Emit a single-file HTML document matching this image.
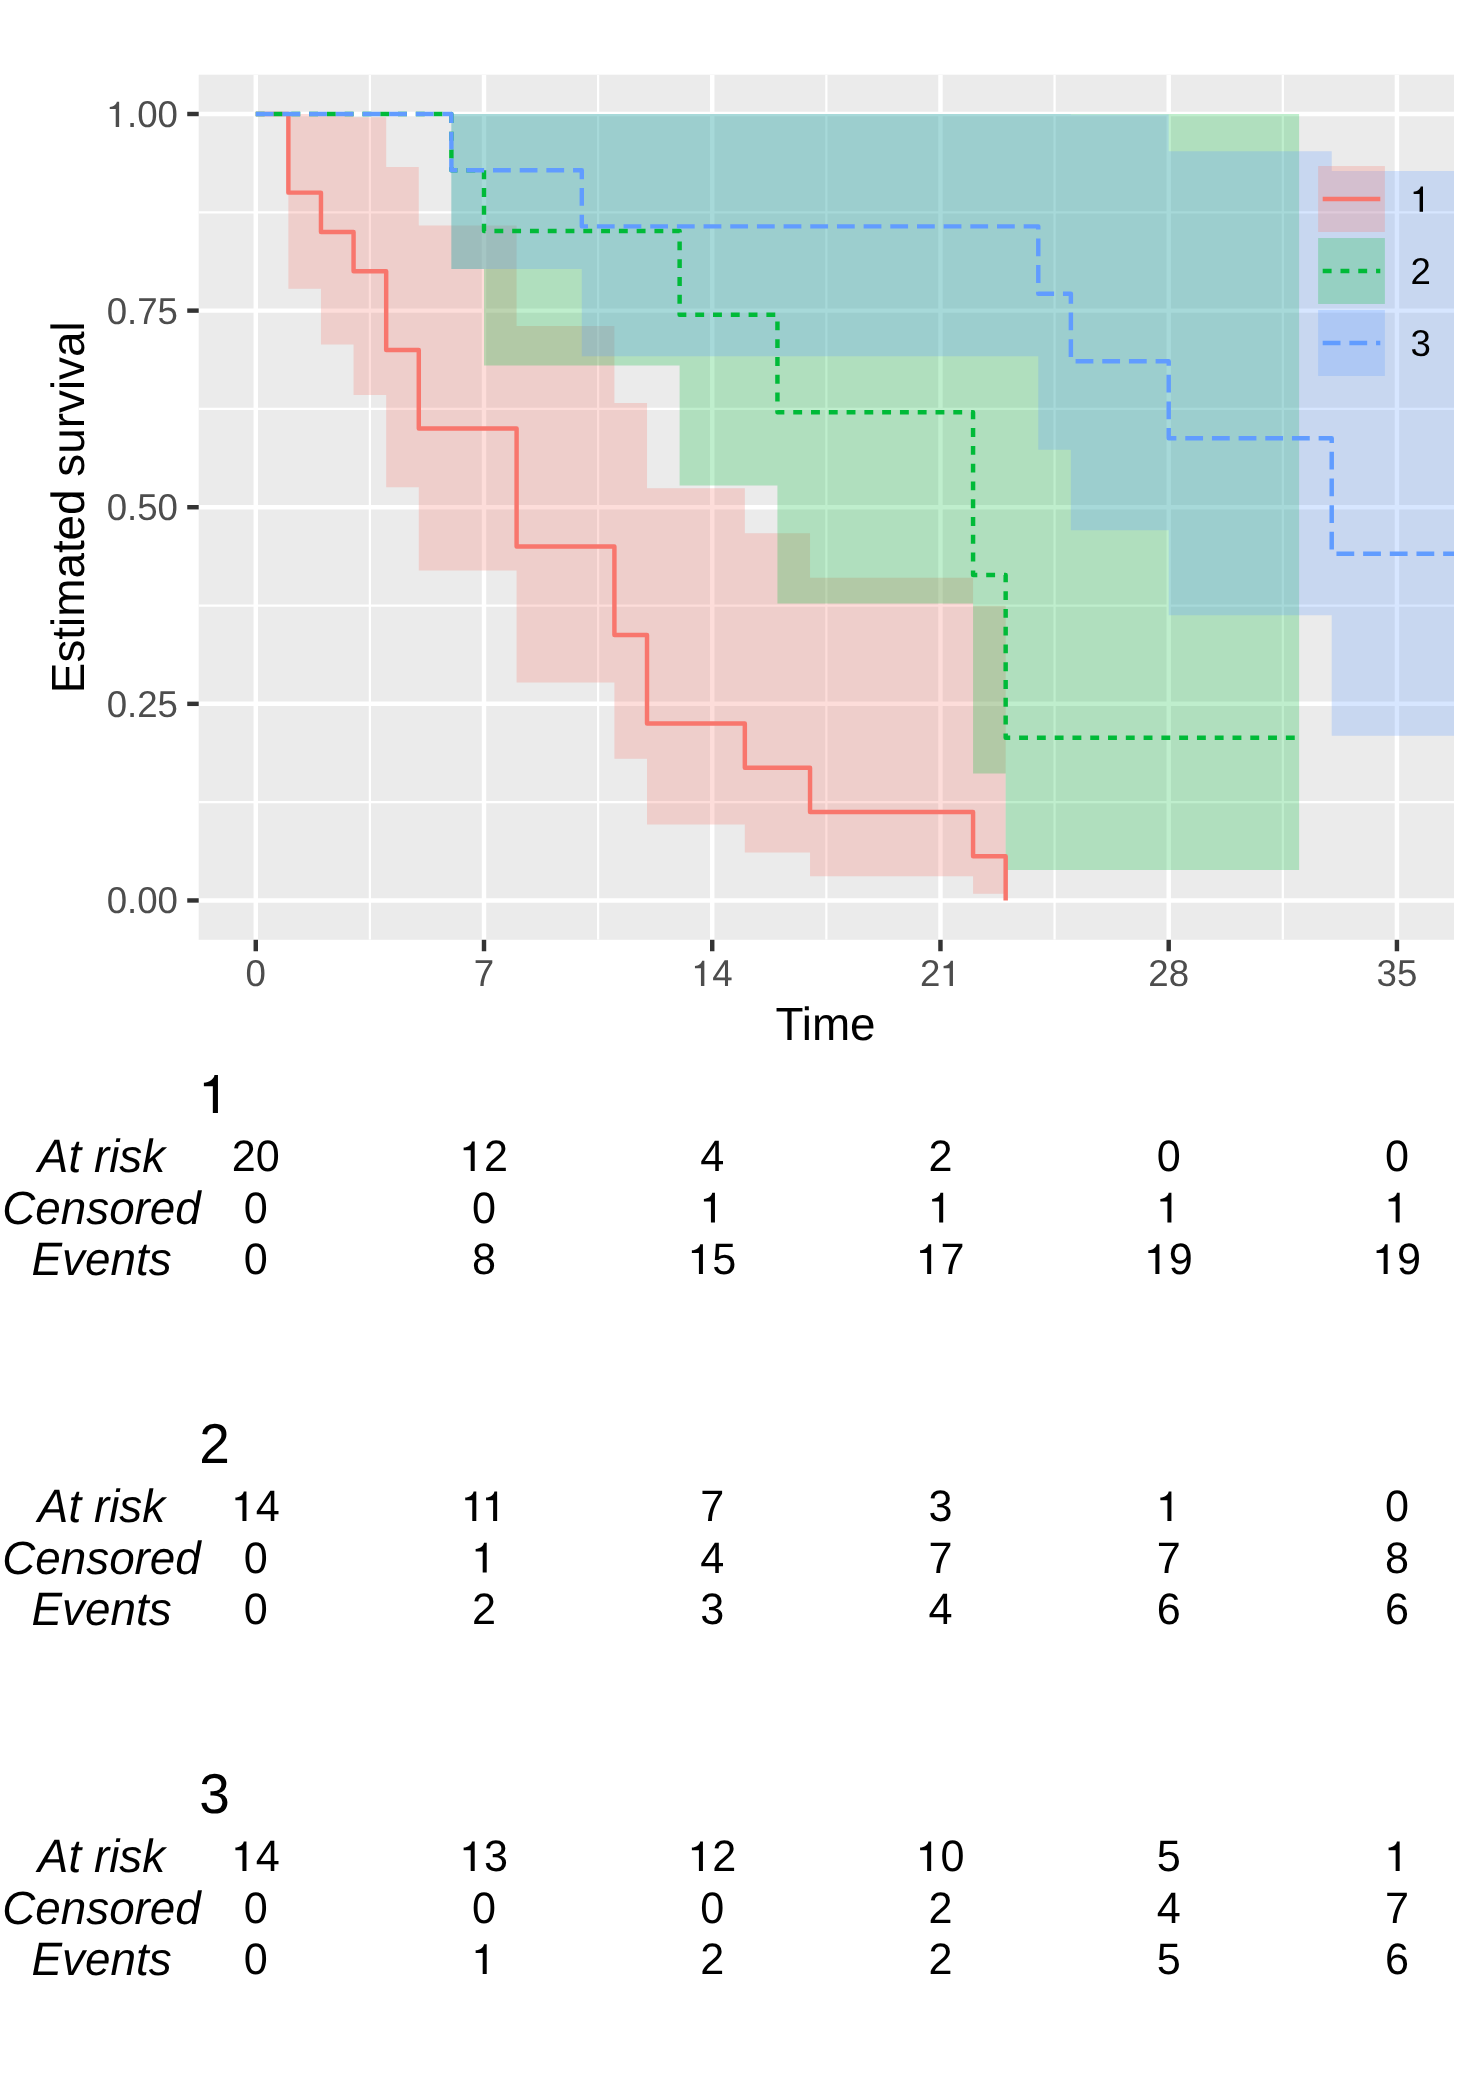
<!DOCTYPE html>
<html><head><meta charset="utf-8"><style>
html,body{margin:0;padding:0;background:#fff;}
svg{display:block;will-change:transform;}
text{font-family:"Liberation Sans",sans-serif;text-rendering:geometricPrecision;}
.tt{font-size:45.83px;fill:#000;}
.sl{font-size:45.83px;fill:#000;font-style:italic;}
</style></head><body>
<svg width="1484" height="2100" viewBox="0 0 1484 2100">
<defs><clipPath id="pc"><rect x="198.70" y="74.70" width="1255.30" height="865.10"/></clipPath></defs>
<rect x="0" y="0" width="1484" height="2100" fill="#fff"/>
<rect x="198.70" y="74.70" width="1255.30" height="865.10" fill="#EBEBEB"/>
<g clip-path="url(#pc)">
<line x1="369.88" y1="74.70" x2="369.88" y2="939.80" stroke="#fff" stroke-width="2.22"/>
<line x1="598.11" y1="74.70" x2="598.11" y2="939.80" stroke="#fff" stroke-width="2.22"/>
<line x1="826.35" y1="74.70" x2="826.35" y2="939.80" stroke="#fff" stroke-width="2.22"/>
<line x1="1054.58" y1="74.70" x2="1054.58" y2="939.80" stroke="#fff" stroke-width="2.22"/>
<line x1="1282.82" y1="74.70" x2="1282.82" y2="939.80" stroke="#fff" stroke-width="2.22"/>
<line x1="198.70" y1="802.14" x2="1454.00" y2="802.14" stroke="#fff" stroke-width="2.22"/>
<line x1="198.70" y1="605.53" x2="1454.00" y2="605.53" stroke="#fff" stroke-width="2.22"/>
<line x1="198.70" y1="408.92" x2="1454.00" y2="408.92" stroke="#fff" stroke-width="2.22"/>
<line x1="198.70" y1="212.31" x2="1454.00" y2="212.31" stroke="#fff" stroke-width="2.22"/>
<line x1="255.76" y1="74.70" x2="255.76" y2="939.80" stroke="#fff" stroke-width="4.44"/>
<line x1="484.00" y1="74.70" x2="484.00" y2="939.80" stroke="#fff" stroke-width="4.44"/>
<line x1="712.23" y1="74.70" x2="712.23" y2="939.80" stroke="#fff" stroke-width="4.44"/>
<line x1="940.46" y1="74.70" x2="940.46" y2="939.80" stroke="#fff" stroke-width="4.44"/>
<line x1="1168.70" y1="74.70" x2="1168.70" y2="939.80" stroke="#fff" stroke-width="4.44"/>
<line x1="1396.93" y1="74.70" x2="1396.93" y2="939.80" stroke="#fff" stroke-width="4.44"/>
<line x1="198.70" y1="900.45" x2="1454.00" y2="900.45" stroke="#fff" stroke-width="4.44"/>
<line x1="198.70" y1="703.84" x2="1454.00" y2="703.84" stroke="#fff" stroke-width="4.44"/>
<line x1="198.70" y1="507.23" x2="1454.00" y2="507.23" stroke="#fff" stroke-width="4.44"/>
<line x1="198.70" y1="310.61" x2="1454.00" y2="310.61" stroke="#fff" stroke-width="4.44"/>
<line x1="198.70" y1="114.00" x2="1454.00" y2="114.00" stroke="#fff" stroke-width="4.44"/>
<path d="M255.76 114.00 L288.37 114.00 L288.37 114.00 L320.97 114.00 L320.97 114.00 L353.57 114.00 L353.57 117.15 L386.18 117.15 L386.18 166.99 L418.78 166.99 L418.78 225.56 L516.60 225.56 L516.60 325.92 L614.41 325.92 L614.41 402.90 L647.02 402.90 L647.02 488.28 L744.83 488.28 L744.83 533.37 L810.04 533.37 L810.04 577.63 L973.07 577.63 L973.07 605.76 L1005.67 605.76 L1005.67 893.81 L973.07 893.81 L973.07 876.20 L810.04 876.20 L810.04 852.47 L744.83 852.47 L744.83 824.48 L647.02 824.48 L647.02 758.85 L614.41 758.85 L614.41 682.45 L516.60 682.45 L516.60 570.53 L418.78 570.53 L418.78 487.25 L386.18 487.25 L386.18 395.10 L353.57 395.10 L353.57 344.38 L320.97 344.38 L320.97 288.85 L288.37 288.85 L288.37 114.00 L255.76 114.00 Z" fill="#F8766D" fill-opacity="0.25"/>
<path d="M255.76 114.00 L451.39 114.00 L451.39 114.00 L484.00 114.00 L484.00 114.00 L679.62 114.00 L679.62 114.00 L777.44 114.00 L777.44 114.00 L973.07 114.00 L973.07 114.00 L1005.67 114.00 L1005.67 114.00 L1299.12 114.00 L1299.12 869.99 L1005.67 869.99 L1005.67 773.57 L973.07 773.57 L973.07 603.46 L777.44 603.46 L777.44 485.49 L679.62 485.49 L679.62 365.41 L484.00 365.41 L484.00 268.93 L451.39 268.93 L451.39 114.00 L255.76 114.00 Z" fill="#00BA38" fill-opacity="0.25"/>
<path d="M255.76 114.00 L451.39 114.00 L451.39 114.00 L581.81 114.00 L581.81 114.00 L1038.28 114.00 L1038.28 114.00 L1070.88 114.00 L1070.88 114.60 L1168.70 114.60 L1168.70 151.23 L1331.72 151.23 L1331.72 171.00 L1559.96 171.00 L1559.96 735.69 L1331.72 735.69 L1331.72 615.27 L1168.70 615.27 L1168.70 530.37 L1070.88 530.37 L1070.88 449.81 L1038.28 449.81 L1038.28 356.14 L581.81 356.14 L581.81 268.93 L451.39 268.93 L451.39 114.00 L255.76 114.00 Z" fill="#619CFF" fill-opacity="0.25"/>
<path d="M255.76 114.00 L288.37 114.00 L288.37 192.64 L320.97 192.64 L320.97 231.97 L353.57 231.97 L353.57 271.29 L386.18 271.29 L386.18 349.94 L418.78 349.94 L418.78 428.58 L516.60 428.58 L516.60 546.55 L614.41 546.55 L614.41 635.02 L647.02 635.02 L647.02 723.50 L744.83 723.50 L744.83 767.74 L810.04 767.74 L810.04 811.97 L973.07 811.97 L973.07 856.21 L1005.67 856.21 L1005.67 900.45" fill="none" stroke="#F8766D" stroke-width="4.45" stroke-linejoin="round" stroke-linecap="butt"/>
<path d="M255.76 114.00 L451.39 114.00 L451.39 170.17 L484.00 170.17 L484.00 231.03 L679.62 231.03 L679.62 314.71 L777.44 314.71 L777.44 412.33 L973.07 412.33 L973.07 575.04 L1005.67 575.04 L1005.67 737.74 L1299.12 737.74" fill="none" stroke="#00BA38" stroke-width="4.45" stroke-linejoin="round" stroke-linecap="butt" stroke-dasharray="8.8916 8.8916"/>
<path d="M255.76 114.00 L451.39 114.00 L451.39 170.17 L581.81 170.17 L581.81 226.35 L1038.28 226.35 L1038.28 293.76 L1070.88 293.76 L1070.88 361.17 L1168.70 361.17 L1168.70 438.21 L1331.72 438.21 L1331.72 553.77 L1559.96 553.77" fill="none" stroke="#619CFF" stroke-width="4.45" stroke-linejoin="round" stroke-linecap="butt" stroke-dasharray="17.7832 8.8916"/>
</g>
<line x1="255.76" y1="939.80" x2="255.76" y2="951.26" stroke="#333" stroke-width="4.44"/>
<text transform="translate(245.56 986.00) scale(1 1.020)" style="font-size:36.67px;fill:#4D4D4D">0</text>
<line x1="484.00" y1="939.80" x2="484.00" y2="951.26" stroke="#333" stroke-width="4.44"/>
<text transform="translate(473.80 986.00) scale(1 1.020)" style="font-size:36.67px;fill:#4D4D4D">7</text>
<line x1="712.23" y1="939.80" x2="712.23" y2="951.26" stroke="#333" stroke-width="4.44"/>
<path d="M341 0L341-687L278-687C272-620 182-546 85-546L85-485L248-485L248 0Z" transform="translate(691.84 986.00) scale(0.03667)" fill="#4D4D4D"/><text transform="translate(712.23 986.00) scale(1 1.020)" style="font-size:36.67px;fill:#4D4D4D">4</text>
<line x1="940.46" y1="939.80" x2="940.46" y2="951.26" stroke="#333" stroke-width="4.44"/>
<text transform="translate(920.07 986.00) scale(1 1.020)" style="font-size:36.67px;fill:#4D4D4D">2</text><path d="M341 0L341-687L278-687C272-620 182-546 85-546L85-485L248-485L248 0Z" transform="translate(940.46 986.00) scale(0.03667)" fill="#4D4D4D"/>
<line x1="1168.70" y1="939.80" x2="1168.70" y2="951.26" stroke="#333" stroke-width="4.44"/>
<text transform="translate(1148.31 986.00) scale(1 1.020)" style="font-size:36.67px;fill:#4D4D4D">28</text>
<line x1="1396.93" y1="939.80" x2="1396.93" y2="951.26" stroke="#333" stroke-width="4.44"/>
<text transform="translate(1376.54 986.00) scale(1 1.020)" style="font-size:36.67px;fill:#4D4D4D">35</text>
<line x1="187.24" y1="900.45" x2="198.70" y2="900.45" stroke="#333" stroke-width="4.44"/>
<text transform="translate(106.63 913.35) scale(1 1.020)" style="font-size:36.67px;fill:#4D4D4D">0.00</text>
<line x1="187.24" y1="703.84" x2="198.70" y2="703.84" stroke="#333" stroke-width="4.44"/>
<text transform="translate(106.63 716.74) scale(1 1.020)" style="font-size:36.67px;fill:#4D4D4D">0.25</text>
<line x1="187.24" y1="507.23" x2="198.70" y2="507.23" stroke="#333" stroke-width="4.44"/>
<text transform="translate(106.63 520.12) scale(1 1.020)" style="font-size:36.67px;fill:#4D4D4D">0.50</text>
<line x1="187.24" y1="310.61" x2="198.70" y2="310.61" stroke="#333" stroke-width="4.44"/>
<text transform="translate(106.63 323.51) scale(1 1.020)" style="font-size:36.67px;fill:#4D4D4D">0.75</text>
<line x1="187.24" y1="114.00" x2="198.70" y2="114.00" stroke="#333" stroke-width="4.44"/>
<path d="M341 0L341-687L278-687C272-620 182-546 85-546L85-485L248-485L248 0Z" transform="translate(106.63 126.90) scale(0.03667)" fill="#4D4D4D"/><text transform="translate(127.02 126.90) scale(1 1.020)" style="font-size:36.67px;fill:#4D4D4D">.00</text>
<text transform="translate(825.5 1039.8) scale(1 1.015)" x="0" y="0" text-anchor="middle" class="tt">Time</text>
<text transform="translate(83.8 507.25) rotate(-90) scale(1 1.015)" x="0" y="0" text-anchor="middle" class="tt">Estimated survival</text>
<rect x="1318.1" y="166.05" width="66.8" height="65.9" fill="#F8766D" fill-opacity="0.25"/>
<line x1="1322.7" y1="199.00" x2="1380.3" y2="199.00" stroke="#F8766D" stroke-width="4.44"/>
<path d="M341 0L341-687L278-687C272-620 182-546 85-546L85-485L248-485L248 0Z" transform="translate(1410.50 211.80) scale(0.03667)" fill="#000"/>
<rect x="1318.1" y="238.05" width="66.8" height="65.9" fill="#00BA38" fill-opacity="0.25"/>
<line x1="1322.7" y1="271.00" x2="1380.3" y2="271.00" stroke="#00BA38" stroke-width="4.44" stroke-dasharray="8.8916 8.8916"/>
<text transform="translate(1410.50 283.80) scale(1 1.020)" style="font-size:36.67px;fill:#000">2</text>
<rect x="1318.1" y="310.05" width="66.8" height="65.9" fill="#619CFF" fill-opacity="0.25"/>
<line x1="1322.7" y1="343.00" x2="1380.3" y2="343.00" stroke="#619CFF" stroke-width="4.44" stroke-dasharray="17.7832 8.8916"/>
<text transform="translate(1410.50 355.80) scale(1 1.020)" style="font-size:36.67px;fill:#000">3</text>
<path d="M341 0L341-687L278-687C272-620 182-546 85-546L85-485L248-485L248 0Z" transform="translate(199.20 1112.90) scale(0.05500)" fill="#000"/>
<text transform="translate(101.5 1172.00) scale(1 1.02)" x="0" y="0" text-anchor="middle" class="sl">At risk</text>
<text transform="translate(231.73 1171.10) scale(1 1.020)" style="font-size:43.20px;fill:#000">20</text>
<path d="M341 0L341-687L278-687C272-620 182-546 85-546L85-485L248-485L248 0Z" transform="translate(459.97 1171.10) scale(0.04320)" fill="#000"/><text transform="translate(484.00 1171.10) scale(1 1.020)" style="font-size:43.20px;fill:#000">2</text>
<text transform="translate(700.22 1171.10) scale(1 1.020)" style="font-size:43.20px;fill:#000">4</text>
<text transform="translate(928.45 1171.10) scale(1 1.020)" style="font-size:43.20px;fill:#000">2</text>
<text transform="translate(1156.69 1171.10) scale(1 1.020)" style="font-size:43.20px;fill:#000">0</text>
<text transform="translate(1384.92 1171.10) scale(1 1.020)" style="font-size:43.20px;fill:#000">0</text>
<text transform="translate(101.5 1223.50) scale(1 1.02)" x="0" y="0" text-anchor="middle" class="sl">Censored</text>
<text transform="translate(243.75 1222.50) scale(1 1.020)" style="font-size:43.20px;fill:#000">0</text>
<text transform="translate(471.98 1222.50) scale(1 1.020)" style="font-size:43.20px;fill:#000">0</text>
<path d="M341 0L341-687L278-687C272-620 182-546 85-546L85-485L248-485L248 0Z" transform="translate(700.22 1222.50) scale(0.04320)" fill="#000"/>
<path d="M341 0L341-687L278-687C272-620 182-546 85-546L85-485L248-485L248 0Z" transform="translate(928.45 1222.50) scale(0.04320)" fill="#000"/>
<path d="M341 0L341-687L278-687C272-620 182-546 85-546L85-485L248-485L248 0Z" transform="translate(1156.69 1222.50) scale(0.04320)" fill="#000"/>
<path d="M341 0L341-687L278-687C272-620 182-546 85-546L85-485L248-485L248 0Z" transform="translate(1384.92 1222.50) scale(0.04320)" fill="#000"/>
<text transform="translate(101.5 1275.00) scale(1 1.02)" x="0" y="0" text-anchor="middle" class="sl">Events</text>
<text transform="translate(243.75 1273.90) scale(1 1.020)" style="font-size:43.20px;fill:#000">0</text>
<text transform="translate(471.98 1273.90) scale(1 1.020)" style="font-size:43.20px;fill:#000">8</text>
<path d="M341 0L341-687L278-687C272-620 182-546 85-546L85-485L248-485L248 0Z" transform="translate(688.20 1273.90) scale(0.04320)" fill="#000"/><text transform="translate(712.23 1273.90) scale(1 1.020)" style="font-size:43.20px;fill:#000">5</text>
<path d="M341 0L341-687L278-687C272-620 182-546 85-546L85-485L248-485L248 0Z" transform="translate(916.44 1273.90) scale(0.04320)" fill="#000"/><text transform="translate(940.46 1273.90) scale(1 1.020)" style="font-size:43.20px;fill:#000">7</text>
<path d="M341 0L341-687L278-687C272-620 182-546 85-546L85-485L248-485L248 0Z" transform="translate(1144.67 1273.90) scale(0.04320)" fill="#000"/><text transform="translate(1168.70 1273.90) scale(1 1.020)" style="font-size:43.20px;fill:#000">9</text>
<path d="M341 0L341-687L278-687C272-620 182-546 85-546L85-485L248-485L248 0Z" transform="translate(1372.91 1273.90) scale(0.04320)" fill="#000"/><text transform="translate(1396.93 1273.90) scale(1 1.020)" style="font-size:43.20px;fill:#000">9</text>
<text transform="translate(199.20 1462.90) scale(1 1.020)" style="font-size:55.00px;fill:#000">2</text>
<text transform="translate(101.5 1522.00) scale(1 1.02)" x="0" y="0" text-anchor="middle" class="sl">At risk</text>
<path d="M341 0L341-687L278-687C272-620 182-546 85-546L85-485L248-485L248 0Z" transform="translate(231.73 1521.10) scale(0.04320)" fill="#000"/><text transform="translate(255.76 1521.10) scale(1 1.020)" style="font-size:43.20px;fill:#000">4</text>
<path d="M341 0L341-687L278-687C272-620 182-546 85-546L85-485L248-485L248 0Z" transform="translate(461.57 1521.10) scale(0.04320)" fill="#000"/><path d="M341 0L341-687L278-687C272-620 182-546 85-546L85-485L248-485L248 0Z" transform="translate(482.40 1521.10) scale(0.04320)" fill="#000"/>
<text transform="translate(700.22 1521.10) scale(1 1.020)" style="font-size:43.20px;fill:#000">7</text>
<text transform="translate(928.45 1521.10) scale(1 1.020)" style="font-size:43.20px;fill:#000">3</text>
<path d="M341 0L341-687L278-687C272-620 182-546 85-546L85-485L248-485L248 0Z" transform="translate(1156.69 1521.10) scale(0.04320)" fill="#000"/>
<text transform="translate(1384.92 1521.10) scale(1 1.020)" style="font-size:43.20px;fill:#000">0</text>
<text transform="translate(101.5 1573.50) scale(1 1.02)" x="0" y="0" text-anchor="middle" class="sl">Censored</text>
<text transform="translate(243.75 1572.50) scale(1 1.020)" style="font-size:43.20px;fill:#000">0</text>
<path d="M341 0L341-687L278-687C272-620 182-546 85-546L85-485L248-485L248 0Z" transform="translate(471.98 1572.50) scale(0.04320)" fill="#000"/>
<text transform="translate(700.22 1572.50) scale(1 1.020)" style="font-size:43.20px;fill:#000">4</text>
<text transform="translate(928.45 1572.50) scale(1 1.020)" style="font-size:43.20px;fill:#000">7</text>
<text transform="translate(1156.69 1572.50) scale(1 1.020)" style="font-size:43.20px;fill:#000">7</text>
<text transform="translate(1384.92 1572.50) scale(1 1.020)" style="font-size:43.20px;fill:#000">8</text>
<text transform="translate(101.5 1625.00) scale(1 1.02)" x="0" y="0" text-anchor="middle" class="sl">Events</text>
<text transform="translate(243.75 1623.90) scale(1 1.020)" style="font-size:43.20px;fill:#000">0</text>
<text transform="translate(471.98 1623.90) scale(1 1.020)" style="font-size:43.20px;fill:#000">2</text>
<text transform="translate(700.22 1623.90) scale(1 1.020)" style="font-size:43.20px;fill:#000">3</text>
<text transform="translate(928.45 1623.90) scale(1 1.020)" style="font-size:43.20px;fill:#000">4</text>
<text transform="translate(1156.69 1623.90) scale(1 1.020)" style="font-size:43.20px;fill:#000">6</text>
<text transform="translate(1384.92 1623.90) scale(1 1.020)" style="font-size:43.20px;fill:#000">6</text>
<text transform="translate(199.20 1812.90) scale(1 1.020)" style="font-size:55.00px;fill:#000">3</text>
<text transform="translate(101.5 1872.00) scale(1 1.02)" x="0" y="0" text-anchor="middle" class="sl">At risk</text>
<path d="M341 0L341-687L278-687C272-620 182-546 85-546L85-485L248-485L248 0Z" transform="translate(231.73 1871.10) scale(0.04320)" fill="#000"/><text transform="translate(255.76 1871.10) scale(1 1.020)" style="font-size:43.20px;fill:#000">4</text>
<path d="M341 0L341-687L278-687C272-620 182-546 85-546L85-485L248-485L248 0Z" transform="translate(459.97 1871.10) scale(0.04320)" fill="#000"/><text transform="translate(484.00 1871.10) scale(1 1.020)" style="font-size:43.20px;fill:#000">3</text>
<path d="M341 0L341-687L278-687C272-620 182-546 85-546L85-485L248-485L248 0Z" transform="translate(688.20 1871.10) scale(0.04320)" fill="#000"/><text transform="translate(712.23 1871.10) scale(1 1.020)" style="font-size:43.20px;fill:#000">2</text>
<path d="M341 0L341-687L278-687C272-620 182-546 85-546L85-485L248-485L248 0Z" transform="translate(916.44 1871.10) scale(0.04320)" fill="#000"/><text transform="translate(940.46 1871.10) scale(1 1.020)" style="font-size:43.20px;fill:#000">0</text>
<text transform="translate(1156.69 1871.10) scale(1 1.020)" style="font-size:43.20px;fill:#000">5</text>
<path d="M341 0L341-687L278-687C272-620 182-546 85-546L85-485L248-485L248 0Z" transform="translate(1384.92 1871.10) scale(0.04320)" fill="#000"/>
<text transform="translate(101.5 1923.50) scale(1 1.02)" x="0" y="0" text-anchor="middle" class="sl">Censored</text>
<text transform="translate(243.75 1922.50) scale(1 1.020)" style="font-size:43.20px;fill:#000">0</text>
<text transform="translate(471.98 1922.50) scale(1 1.020)" style="font-size:43.20px;fill:#000">0</text>
<text transform="translate(700.22 1922.50) scale(1 1.020)" style="font-size:43.20px;fill:#000">0</text>
<text transform="translate(928.45 1922.50) scale(1 1.020)" style="font-size:43.20px;fill:#000">2</text>
<text transform="translate(1156.69 1922.50) scale(1 1.020)" style="font-size:43.20px;fill:#000">4</text>
<text transform="translate(1384.92 1922.50) scale(1 1.020)" style="font-size:43.20px;fill:#000">7</text>
<text transform="translate(101.5 1975.00) scale(1 1.02)" x="0" y="0" text-anchor="middle" class="sl">Events</text>
<text transform="translate(243.75 1973.90) scale(1 1.020)" style="font-size:43.20px;fill:#000">0</text>
<path d="M341 0L341-687L278-687C272-620 182-546 85-546L85-485L248-485L248 0Z" transform="translate(471.98 1973.90) scale(0.04320)" fill="#000"/>
<text transform="translate(700.22 1973.90) scale(1 1.020)" style="font-size:43.20px;fill:#000">2</text>
<text transform="translate(928.45 1973.90) scale(1 1.020)" style="font-size:43.20px;fill:#000">2</text>
<text transform="translate(1156.69 1973.90) scale(1 1.020)" style="font-size:43.20px;fill:#000">5</text>
<text transform="translate(1384.92 1973.90) scale(1 1.020)" style="font-size:43.20px;fill:#000">6</text>
</svg>
</body></html>
